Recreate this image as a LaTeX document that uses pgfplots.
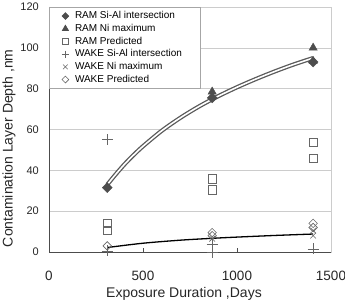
\documentclass[border=0pt]{standalone}
\usepackage{pgfplots}
\pgfplotsset{compat=1.18}
\usepackage{fontspec}
\setmainfont{Liberation Sans}
\definecolor{markgray}{HTML}{4D4D4D}
\definecolor{opengray}{HTML}{666666}
\definecolor{gridgray}{HTML}{CCCCCC}
\definecolor{curvegray}{HTML}{5A5A5A}
% legend text cell: gap after the symbol, fixed width for the box
\newcommand\lent[1]{\hspace*{5.5bp}\makebox[112bp][l]{#1}}

\begin{document}
\begin{tikzpicture}
\clip (-49bp,-49bp) rectangle (296bp,252bp);
\begin{axis}[
  scale only axis, width=282bp, height=245bp,
  xmin=0, xmax=1500, ymin=0, ymax=120,
  clip=false,
  xtick={0,500,1000,1500}, ytick={0,20,...,120},
  xtick pos=bottom, ytick pos=left,
  tick align=inside, major tick length=4bp,
  xtick style={black!70, line width=0.6bp},
  ytick style={draw=none},
  ymajorgrids, grid style={gridgray, line width=0.6bp},
  axis line style={gridgray, line width=0.7bp},
  /pgf/number format/assume math mode=true,
  /pgf/number format/1000 sep={},
  xticklabel style={font=\fontsize{13.5bp}{15bp}\selectfont, inner sep=0pt, text=black!85},
  yticklabel style={font=\fontsize{11bp}{13bp}\selectfont, inner sep=0pt, text=black!85},
  xticklabel shift=19bp, yticklabel shift=10bp,
  xlabel={Exposure Duration ,Days},
  ylabel={Contamination Layer Depth ,nm},
  label style={font=\fontsize{14bp}{16bp}\selectfont, text=black!85, inner sep=0pt},
  xlabel style={at={(axis description cs:0.4787,-0.1865)}, anchor=base},
  ylabel style={at={(axis description cs:-0.1287,0.4237)}, anchor=base},
  legend style={at={(0,1)}, anchor=north west, draw=gray!70, line width=0.6bp,
    fill=white, font=\fontsize{10bp}{12bp}\selectfont,
    inner xsep=12.5bp, inner ysep=3bp, row sep=1.2bp,
    nodes={inner sep=0.5bp, text height=8bp, text depth=2.5bp}},
  legend cell align=left,
]
% fitted trend lines
\addplot[curvegray, line width=1.3bp, double=white, double distance=1.6bp, smooth, forget plot]
  coordinates {(310,33.0)(350,37.5)(400,42.8)(450,47.5)(500,51.8)(600,59.4)(700,65.8)
               (800,71.4)(900,76.3)(1000,80.7)(1100,84.7)(1200,88.4)(1300,91.8)(1405,95.0)};
\addplot[black, line width=1.3bp, smooth, forget plot]
  coordinates {(310,2.2)(500,4.3)(700,5.8)(868,6.7)(1000,7.3)(1200,8.1)(1405,8.8)};

% measured and predicted depths
\addplot[only marks, mark=square*, mark size=3.5bp, mark options={rotate=45, fill=markgray, draw=markgray},
  legend image post style={mark size=2.4bp}]
  coordinates {(310,31.5)(868,75.5)(1405,93)};
\addlegendentry{\lent{RAM Si-Al intersection}}
\addplot[only marks, mark=triangle*, mark size=4.8bp, mark options={fill=markgray, draw=markgray},
  legend image post style={mark size=3.6bp}]
  coordinates {(868,78.5)(1405,100)(1405,93.5)};
\addlegendentry{\lent{RAM Ni maximum}}
\addplot[only marks, mark=square, mark size=4.2bp, mark options={draw=opengray, line width=0.6bp},
  legend image post style={mark size=3bp}]
  coordinates {(310,14.2)(310,10.6)(868,35.8)(868,30.5)(1405,53.6)(1405,46)};
\addlegendentry{\lent{RAM Predicted}}
\addplot[only marks, mark=+, mark size=5.5bp, mark options={draw=opengray, line width=0.6bp},
  legend image post style={mark size=3.6bp}]
  coordinates {(310,55)(310,0.5)(868,4)(868,0)(1405,1.5)};
\addlegendentry{\lent{WAKE Si-Al intersection}}
\addplot[only marks, mark=x, mark size=4bp, mark options={draw=opengray, line width=0.6bp},
  legend image post style={mark size=3.3bp}]
  coordinates {(868,6.5)(1405,8)(1405,10.5)};
\addlegendentry{\lent{WAKE Ni maximum}}
\addplot[only marks, mark=square, mark size=3bp, mark options={rotate=45, draw=opengray, line width=0.6bp},
  legend image post style={mark size=2.4bp}]
  coordinates {(310,3)(868,8)(868,9.5)(1405,14)(1405,12)};
\addlegendentry{\lent{WAKE Predicted}}

\draw[black!70, line width=0.8bp] (rel axis cs:0,1) -- (rel axis cs:0,0) -- (rel axis cs:1,0);
\end{axis}
\end{tikzpicture}
\end{document}
